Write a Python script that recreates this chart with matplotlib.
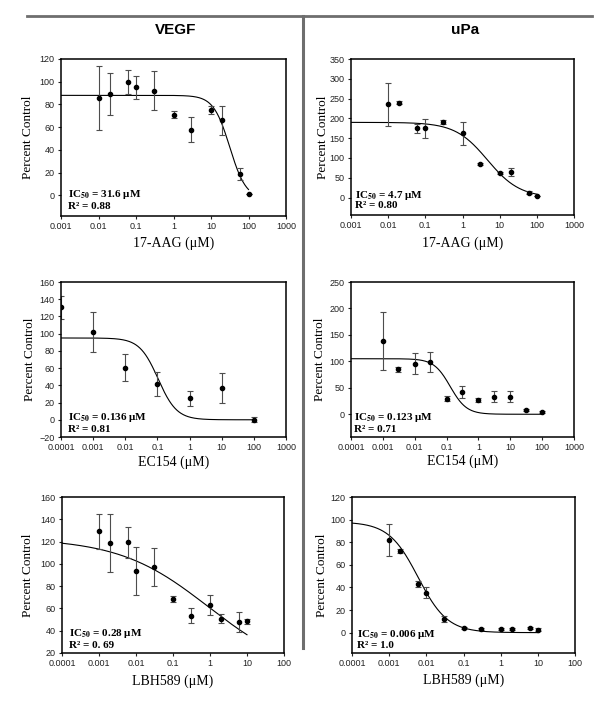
import numpy as np
import matplotlib
matplotlib.use("Agg")
import matplotlib.pyplot as plt

# dados
# 17-AAG
aag_x = [0.01, 0.02, 0.06, 0.1, 0.3, 1, 3, 10, 20, 60, 100]
vegf_aag_y = [86, 89, 100, 95, 92, 71, 58, 75, 66, 19, 1]
vegf_aag_err = [28, 18.5, 10.5, 10, 17, 3.3, 11, 3.7, 13, 5, 0]
upa_aag_y = [236, 240, 175, 174.5, 190, 163, 85, 62, 64, 12.6, 4]
upa_aag_err = [54, 3, 11, 25, 5, 29, 3, 2, 10, 3, 0]

# EC154
vegf_ec_x = [0.0001, 0.001, 0.01, 0.1, 1, 10, 100]
vegf_ec_y = [130.6, 102, 60.5, 41.5, 24.8, 36.8, 0]
vegf_ec_err = [13.5, 23, 16, 14, 9, 17.5, 3]
upa_ec_x = [0.001, 0.003, 0.01, 0.03, 0.1, 0.3, 1, 3, 10, 30, 100]
upa_ec_y = [138.6, 84.8, 95.6, 98.7, 29.7, 42.4, 27, 33.5, 33.5, 8, 4.4]
upa_ec_err = [55, 5, 19.5, 19, 5, 11, 4, 10.5, 11, 2, 2]

# LBH589
lbh_x = [0.001, 0.002, 0.006, 0.01, 0.03, 0.1, 0.3, 1, 2, 6, 10]
vegf_lbh_y = [129.4, 118.7, 119.3, 93.8, 96.8, 68.4, 53.5, 63.3, 50.8, 47.8, 48.4]
vegf_lbh_err = [15.7, 26, 14, 21.4, 17, 3, 7, 9, 4, 9, 2]
upa_lbh_y = [82.1, 72.4, 43.1, 35.2, 12.1, 4.1, 3.2, 3.5, 3, 4.1, 2.7]
upa_lbh_err = [14, 2, 3, 4.8, 3, 1, 1, 1, 1, 1, 1]

# parametros das curvas ajustadas: topo, base, IC50, hill, x inicial, x final
fit_vegf_aag = [88, -3, 31.6, 2.0, 0.001, 100]
fit_upa_aag = [190, 0, 4.7, 1.0, 0.001, 100]
fit_vegf_ec = [95, 0, 0.105, 1.5, 0.0001, 100]
fit_upa_ec = [105, 0, 0.13, 1.7, 0.0001, 100]
fit_vegf_lbh = [123, 0, 0.9, 0.36, 0.0001, 10]
fit_upa_lbh = [98, 0, 0.006, 1.1, 0.0001, 10]

# textos
ic50_txt = ['31.6', '4.7', '0.136', '0.123', '0.28', '0.006']
r2_txt = ['0.88', '0.80', '0.81', '0.71', '0. 69', '1.0']

# eixos x
ticks_aag = [0.001, 0.01, 0.1, 1, 10, 100, 1000]
labels_aag = ['0.001', '0.01', '0.1', '1', '10', '100', '1000']
ticks_ec = [0.0001, 0.001, 0.01, 0.1, 1, 10, 100, 1000]
labels_ec = ['0.0001', '0.001', '0.01', '0.1', '1', '10', '100', '1000']
ticks_lbh = [0.0001, 0.001, 0.01, 0.1, 1, 10, 100]
labels_lbh = ['0.0001', '0.001', '0.01', '0.1', '1', '10', '100']

plt.rcParams['mathtext.fontset'] = 'stix'
fig = plt.figure(figsize=(6, 7.01), dpi=100)


def painel(pos, x, y, err, fit, xticks, xlabels, ylim, yticks, xlabel,
           ic50, r2, tx, ty, ylx, xly):
    ax = fig.add_axes(pos)
    top, bottom, c, h, x0, x1 = fit
    xs = np.logspace(np.log10(x0), np.log10(x1), 400)
    ax.plot(xs, bottom + (top - bottom) / (1 + (xs / c) ** h), color='k', lw=0.8)
    ax.errorbar(x, y, yerr=err, fmt='o', color='k', ms=3, ecolor='0.3',
                elinewidth=0.8, capsize=2, capthick=0.8)
    ax.set_xscale('log')
    ax.set_xlim(xticks[0], xticks[-1])
    ax.set_ylim(ylim)
    ax.set_xticks(xticks)
    ax.set_xticklabels(xlabels)
    ax.minorticks_off()
    ax.set_yticks(yticks)
    ax.tick_params(labelsize=6.5, length=2.5, width=0.8, pad=2, colors='#222222')
    for t in ax.get_xticklabels() + ax.get_yticklabels():
        t.set_family('Liberation Sans')
    for s in ax.spines.values():
        s.set_linewidth(1.1)
    ax.set_xlabel(xlabel, family='Liberation Serif', fontsize=10)
    ax.set_ylabel('Percent Control', family='Liberation Serif', fontsize=9.5)
    ax.xaxis.set_label_coords(0.5, xly)
    ax.yaxis.set_label_coords(ylx, 0.5)
    ax.xaxis.label.set_va('center')
    ax.yaxis.label.set_va('center')
    ax.text(tx, ty[0], r'IC$_{\mathbf{50}}$ = ' + ic50 + ' μM', transform=ax.transAxes,
            family='Liberation Serif', weight='bold', fontsize=8, va='center')
    ax.text(tx, ty[1], 'R² = ' + r2, transform=ax.transAxes,
            family='Liberation Serif', weight='bold', fontsize=8, va='center')
    return ax


painel([0.1017, 0.6919, 0.375, 0.224], aag_x, vegf_aag_y, vegf_aag_err, fit_vegf_aag,
       ticks_aag, labels_aag, (-18, 120), range(0, 121, 20), '17-AAG (μM)',
       ic50_txt[0], r2_txt[0], 0.031, (0.134, 0.062), -0.147, -0.172)
painel([0.585, 0.6933, 0.3717, 0.2225], aag_x, upa_aag_y, upa_aag_err, fit_upa_aag,
       ticks_aag, labels_aag, (-44, 350), range(0, 351, 50), '17-AAG (μM)',
       ic50_txt[1], r2_txt[1], 0.018, (0.128, 0.058), -0.127, -0.181)
painel([0.1017, 0.3766, 0.375, 0.2211], vegf_ec_x, vegf_ec_y, vegf_ec_err, fit_vegf_ec,
       ticks_ec, labels_ec, (-20, 160), range(-20, 161, 20), 'EC154 (μM)',
       ic50_txt[2], r2_txt[2], 0.032, (0.125, 0.046), -0.138, -0.161)
painel([0.585, 0.3766, 0.3717, 0.2211], upa_ec_x, upa_ec_y, upa_ec_err, fit_upa_ec,
       ticks_ec, labels_ec, (-43, 250), range(0, 251, 50), 'EC154 (μM)',
       ic50_txt[3], r2_txt[3], 0.012, (0.125, 0.048), -0.139, -0.159)
painel([0.1033, 0.0685, 0.37, 0.2225], lbh_x, vegf_lbh_y, vegf_lbh_err, fit_vegf_lbh,
       ticks_lbh, labels_lbh, (20, 160), range(20, 161, 20), 'LBH589 (μM)',
       ic50_txt[4], r2_txt[4], 0.032, (0.122, 0.048), -0.152, -0.182)
painel([0.5867, 0.0685, 0.3717, 0.2225], lbh_x, upa_lbh_y, upa_lbh_err, fit_upa_lbh,
       ticks_lbh, labels_lbh, (-18, 120), range(0, 121, 20), 'LBH589 (μM)',
       ic50_txt[5], r2_txt[5], 0.024, (0.12, 0.05), -0.133, -0.178)

# linhas de separacao e titulos
fig.add_artist(plt.Line2D([0.045, 0.987], [0.9776, 0.9776], color='#6e6e6e', lw=2))
fig.add_artist(plt.Line2D([0.5045, 0.5045], [0.9776, 0.0756], color='#6e6e6e', lw=2.2))
fig.text(0.292, 0.9565, 'VEGF', ha='center', va='center', family='Liberation Sans',
         weight='bold', fontsize=11)
fig.text(0.775, 0.9565, 'uPa', ha='center', va='center', family='Liberation Sans',
         weight='bold', fontsize=11)

fig.savefig('out.png', dpi=100)
